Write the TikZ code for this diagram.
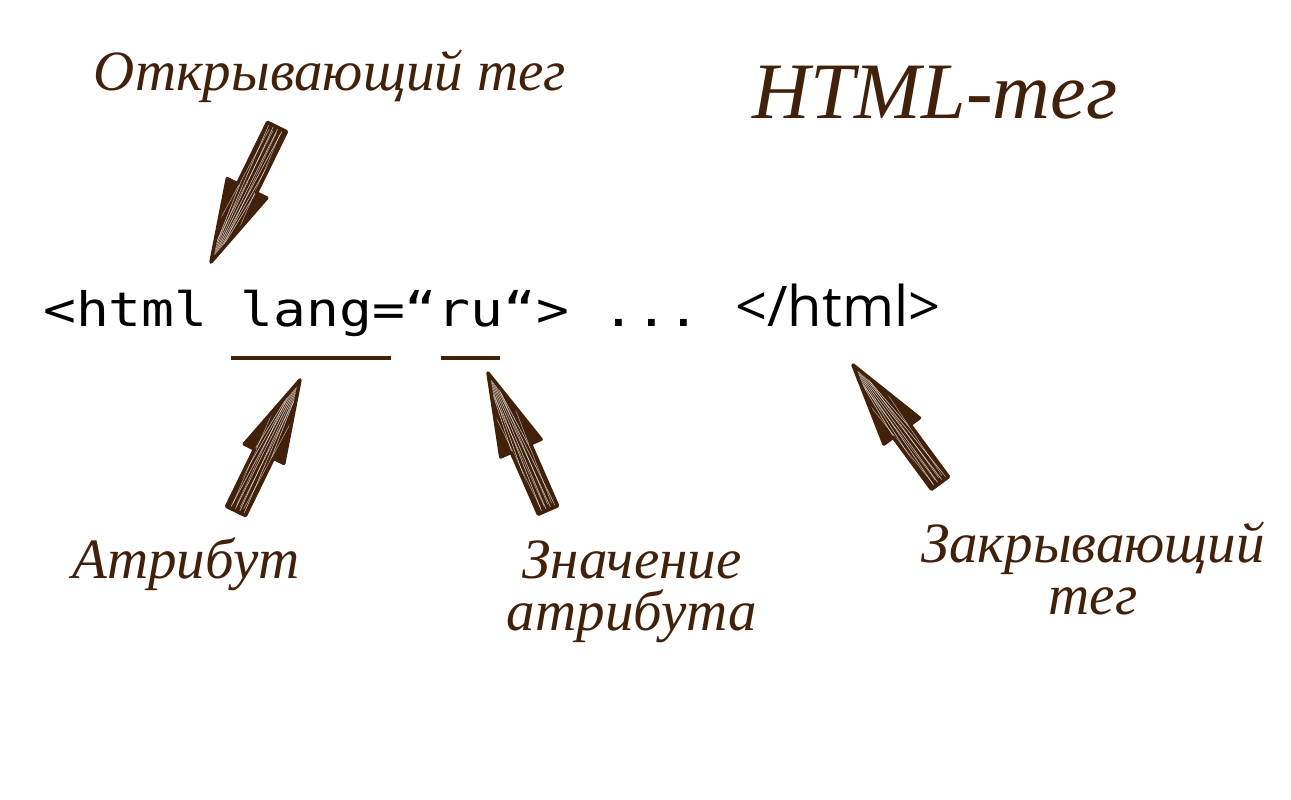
\documentclass[tikz,border=0pt]{standalone}
\usepackage{fontspec}
\usetikzlibrary{calc}
\newfontfamily\labfont{Liberation Serif}
\newfontfamily\codefont{DejaVu Sans Mono}[FakeStretch=1.15]
\newfontfamily\closefont{Open Sans}
\definecolor{ink}{HTML}{42210B}
\tikzset{
  lab/.style={font=\labfont\itshape\fontsize{57}{48}\selectfont, text=ink, inner sep=0pt, align=center},
  code/.style={font=\codefont\fontsize{47.5}{50}\selectfont, text=black, inner sep=0pt},
  uline/.style={draw=ink, line width=4pt},
}
\newcommand\skarrow[2]{%
  \path let \p1=(#1), \p2=(#2) in \pgfextra{%
    \pgfmathsetmacro\skangL{atan2(\y2-\y1,\x2-\x1)}%
    \pgfmathsetmacro\sklenL{veclen(\x2-\x1,\y2-\y1)}%
    \xdef\skang{\skangL}\xdef\sklen{\sklenL}};
  \begin{scope}[shift={(#1)},rotate=\skang]
    \pgfmathsetmacro\skbase{\sklen-82}
    \def\skshape{(0,-10.5) -- (\skbase,-10.5) -- (\skbase,-22) -- (\sklen,0) -- (\skbase,22) -- (\skbase,10.5) -- (0,10.5) -- cycle}
    \fill[ink] \skshape;
    \begin{scope}
      \clip \skshape;
      \foreach \i in {-15,-10,...,15} \draw[white, line width=0.6pt, opacity=0.7] (-2,\i+1.5) -- (\sklen+2,0.12*\i);
      \foreach \i in {-12,-4,4,12} \draw[white, line width=0.5pt, opacity=0.6] (5,0.5*\i) -- (\sklen-10,\i);
    \end{scope}
    \draw[ink, line width=3.5pt, line join=round] \skshape;
  \end{scope}}
\begin{document}
\begin{tikzpicture}[x=1pt,y=1pt]
\useasboundingbox (0,0) rectangle (1291,-800);
\fill[white] (0,0) rectangle (1291,-800);
% labels
\node[lab, anchor=base] (open) at (330,-90) {Открывающий тег};
\node[lab, anchor=base, font=\labfont\itshape\fontsize{80}{80}\selectfont] (title) at (935,-118) {HTML-тег};
\node[lab, anchor=base] (attr) at (186,-578) {Атрибут};
\node[lab, anchor=center, font=\labfont\itshape\fontsize{57}{52}\selectfont] (val) at (632,-592) {Значение\\атрибута};
\node[lab, anchor=center, font=\labfont\itshape\fontsize{57}{52}\selectfont] (cls) at (1093,-568) {Закрывающий\\тег};
% code line
\node[code, anchor=base west] (codeA) at (43,-326) {<html lang=“ru“> ...};
\node[code, anchor=base west, font=\closefont\fontsize{56}{58}\selectfont] (codeB) at ([xshift=34pt]codeA.base east) {</html>};
% underlines
\coordinate (u1a) at (231,-358);
\coordinate (u1b) at (391,-358);
\coordinate (u2a) at (441,-358);
\coordinate (u2b) at (500,-358);
\draw[uline] (u1a) -- (u1b);
\draw[uline] (u2a) -- (u2b);
% arrows
\coordinate (a1s) at (277,-127); \coordinate (a1e) at (211,-262);
\coordinate (a2s) at (236,-511); \coordinate (a2e) at (300,-380);
\coordinate (a3s) at (548,-510); \coordinate (a3e) at (488,-373);
\coordinate (a4s) at (940,-483); \coordinate (a4e) at (853,-365);
\skarrow{a1s}{a1e}
\skarrow{a2s}{a2e}
\skarrow{a3s}{a3e}
\skarrow{a4s}{a4e}
\end{tikzpicture}
\end{document}
